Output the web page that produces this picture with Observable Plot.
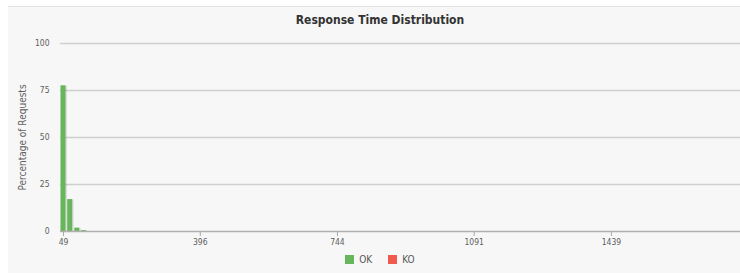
<!DOCTYPE html>
<html>
<head>
<meta charset="utf-8">
<script src="https://cdn.jsdelivr.net/npm/d3@7"></script>
<script src="https://cdn.jsdelivr.net/npm/@observablehq/plot@0.6"></script>
<style>
  html, body { margin: 0; padding: 0; background: #ffffff; overflow: hidden; width: 740px; height: 273px; }
  #frame { position: absolute; left: 8px; top: 6px; width: 744px; height: 267px; background: #f7f7f7; border-top: 1px solid #e2e2e2; box-sizing: border-box; }
  #title { height: 25px; padding-top: 1px; line-height: 25px; text-align: center; font-family: "DejaVu Sans Condensed", "DejaVu Sans", sans-serif; font-weight: bold; font-size: 12px; color: #333; }
  #chart svg { display: block; overflow: visible; }
  #chart [aria-label="x-axis tick"], #chart [aria-label="x-axis tick"] path { stroke: #a8a8a8; }
  #chart [aria-label="y-axis label"] text, #chart [aria-label="y-axis label"] { font-size: 10px; fill: #5e5e5e; }
  #legend { height: 16px; display: flex; justify-content: center; align-items: center; gap: 16px; font-family: "DejaVu Sans Condensed", "DejaVu Sans", sans-serif; font-size: 10px; color: #555; }
  .item { display: flex; align-items: center; gap: 5px; }
  .sw { width: 9px; height: 9px; display: inline-block; }
</style>
</head>
<body>
<div id="frame">
  <div id="title"></div>
  <div id="chart"></div>
  <div id="legend"></div>
</div>
<script>
const chartTitle = "Response Time Distribution";
const yLabel = "Percentage of Requests";
const seriesNames = ["OK", "KO"];
const seriesColors = ["#68b65c", "#f15b4f"];
// bucket centres (ms) and percentage of requests
const okTimes = [49, 66, 84, 101];
const okPercent = [77.5, 17.0, 1.8, 0.5];
const koTimes = [];
const koPercent = [];
const bucketMs = 17.375;
const xTicks = [49, 396, 744, 1091, 1439];
const yTicks = [0, 25, 50, 75, 100];

document.getElementById("title").textContent = chartTitle;

const toRows = (times, vals, s) => times.map((t, i) => ({x1: t - bucketMs / 2, x2: t + bucketMs / 2, y: vals[i], s}));
const rows = [...toRows(okTimes, okPercent, "OK"), ...toRows(koTimes, koPercent, "KO")];

const plot = Plot.plot({
  width: 744,
  height: 218,
  marginLeft: 52,
  marginRight: 0,
  marginTop: 10,
  marginBottom: 20,
  style: {background: "transparent", fontFamily: "'DejaVu Sans Condensed', 'DejaVu Sans', sans-serif", fontSize: "8.5px", color: "#5e5e5e"},
  x: {domain: [41.4, 1797], label: null},
  y: {domain: [0, 100], label: null},
  color: {domain: seriesNames, range: seriesColors},
  marks: [
    Plot.ruleY(yTicks.filter(d => d > 0), {stroke: "#cfcfcf", strokeWidth: 1.5}),
    Plot.rectY(rows, {x1: "x1", x2: "x2", y: "y", fill: "#000", fillOpacity: 0.1, dx: 1.5, dy: 0.5, insetLeft: 0.9, insetRight: 0.9}),
    Plot.rectY(rows, {x1: "x1", x2: "x2", y: "y", fill: "s", insetLeft: 0.9, insetRight: 0.9}),
    Plot.ruleY([0], {stroke: "#b0b0b0", strokeWidth: 1.5}),
    Plot.axisX({ticks: xTicks, tickFormat: d => String(d), tickSize: 5, tickPadding: 2, label: null}),
    Plot.axisY({ticks: yTicks, tickSize: 0, tickPadding: 11, label: yLabel, labelAnchor: "center", labelArrow: "none", labelOffset: 42})
  ]
});
document.getElementById("chart").appendChild(plot);

const legend = document.getElementById("legend");
seriesNames.forEach((n, i) => {
  const it = document.createElement("span");
  it.className = "item";
  const sw = document.createElement("span");
  sw.className = "sw";
  sw.style.background = seriesColors[i];
  const tx = document.createElement("span");
  tx.textContent = n;
  it.appendChild(sw);
  it.appendChild(tx);
  legend.appendChild(it);
});
</script>
</body>
</html>
